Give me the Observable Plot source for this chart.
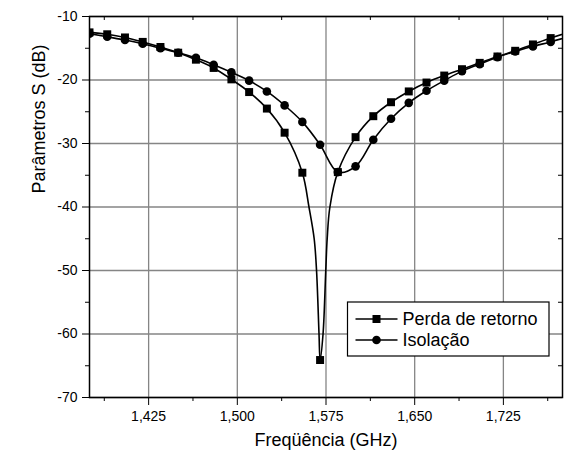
<!DOCTYPE html>
<html>
<head>
<meta charset="utf-8">
<script src="https://cdn.jsdelivr.net/npm/d3@7"></script>
<script src="https://cdn.jsdelivr.net/npm/@observablehq/plot@0.6"></script>
<style>
  body { margin: 0; background: #fff; }
  #chart svg { display: block; }
</style>
</head>
<body>
<div id="chart"></div>
<script>
// ---- Data ----
// Marker frequencies (GHz)
const freq = [1.375, 1.390, 1.405, 1.420, 1.435, 1.450, 1.465, 1.480, 1.495, 1.510,
              1.525, 1.540, 1.555, 1.570, 1.585, 1.600, 1.615, 1.630, 1.645, 1.660,
              1.675, 1.690, 1.705, 1.720, 1.735, 1.750, 1.765, 1.780];
// "Perda de retorno" (dB), square markers
const perdaRetorno = [-12.5, -12.8, -13.3, -14.0, -14.8, -15.7, -16.8, -18.1, -19.9, -21.9,
                      -24.5, -28.3, -34.6, -64.1, -34.5, -29.0, -25.7, -23.5, -21.8, -20.4,
                      -19.3, -18.3, -17.3, -16.3, -15.4, -14.4, -13.4, -12.5];
// "Isolação" (dB), circle markers
const isolacao = [-12.7, -13.2, -13.7, -14.3, -15.0, -15.7, -16.5, -17.6, -18.8, -20.1,
                  -21.8, -24.0, -26.6, -30.2, -34.5, -33.6, -29.4, -26.1, -23.6, -21.7,
                  -20.1, -18.6, -17.5, -16.4, -15.5, -14.7, -14.0, -13.2];
// Extra points of the "Perda de retorno" trace in the narrow dip (no marker)
const perdaTraceFreq = [1.5606, 1.5650, 1.5670, 1.5691, 1.5725, 1.5748, 1.5760, 1.5783];
const perdaTraceDb   = [-40, -45, -50, -60, -60, -50, -45, -40];

// Axis ticks
const xTicks = [1.425, 1.500, 1.575, 1.650, 1.725];
const xMinorTicks = [1.3875, 1.4625, 1.5375, 1.6125, 1.6875, 1.7625];
const yTicks = [-70, -60, -50, -40, -30, -20, -10];
const yMinorTicks = [-65, -55, -45, -35, -25, -15];
const xDomain = [1.375, 1.775];
const yDomain = [-70, -10];
const seriesNames = ["Perda de retorno", "Isolação"];
const xTitle = "Freqüência (GHz)";
const yTitle = "Parâmetros S (dB)";

// ---- Build tables ----
const perdaPts = freq.map((f, i) => ({f, db: perdaRetorno[i]}));
const isoPts = freq.map((f, i) => ({f, db: isolacao[i]}));
const perdaLine = perdaPts.concat(perdaTraceFreq.map((f, i) => ({f, db: perdaTraceDb[i]})))
  .sort((a, b) => a.f - b.f);

const fmtX = d => d3.format(".3f")(d).replace(".", ",");

const W = 564, H = 455, mL = 89, mR = 2, mT = 16, mB = 58;
const innerW = W - mL - mR, innerH = H - mT - mB;
const gridColor = "#858585";
const font = "'Liberation Sans', Arial, Helvetica, sans-serif";

const plot = Plot.plot({
  width: W, height: H,
  marginLeft: mL, marginRight: mR, marginTop: mT, marginBottom: mB,
  x: {domain: xDomain},
  y: {domain: yDomain},
  style: {fontFamily: font, fontSize: "14px", color: "black", background: "white", overflow: "visible"},
  marks: [
    Plot.ruleX(xTicks, {x: d => d, stroke: gridColor, strokeWidth: 1.3}),
    Plot.ruleY(yTicks, {y: d => d, stroke: gridColor, strokeWidth: 1.3}),
    Plot.line(perdaLine, {x: "f", y: "db", curve: "catmull-rom", stroke: "black", strokeWidth: 1.6, clip: true}),
    Plot.line(isoPts, {x: "f", y: "db", curve: "catmull-rom", stroke: "black", strokeWidth: 1.6, clip: true}),
    Plot.dot(perdaPts, {x: "f", y: "db", symbol: "square", r: 4.5, fill: "black", stroke: "none", clip: true}),
    Plot.dot(isoPts, {x: "f", y: "db", symbol: "circle", r: 4.3, fill: "black", stroke: "none", clip: true}),
    Plot.axisX(xTicks, {tickSize: 8, tickPadding: 6, tickFormat: fmtX, fontSize: 14, label: null, stroke: "black"}),
    Plot.axisX(xMinorTicks, {tickSize: 4, tickFormat: () => "", label: null, stroke: "black"}),
    Plot.axisY(yTicks, {tickSize: 7, tickPadding: 5, tickFormat: d => String(d), fontSize: 14, label: null, stroke: "black"}),
    Plot.axisY(yMinorTicks, {tickSize: 4, tickFormat: () => "", label: null, stroke: "black"}),
    // inward minor ticks on the top and right edges
    Plot.tickX(xMinorTicks, {x: d => d, insetBottom: innerH - 4, stroke: "black"}),
    Plot.tickY(yMinorTicks, {y: d => d, insetLeft: innerW - 4, stroke: "black"}),
    Plot.frame({stroke: "black", strokeWidth: 1.5}),
    Plot.text([xTitle], {frameAnchor: "bottom", dy: 48, fontSize: 18, fill: "black"}),
    Plot.text([yTitle], {frameAnchor: "left", dx: -50, dy: -13.5, rotate: -90, fontSize: 18, fill: "black"})
  ]
});

// ---- Legend (inside plot area, lower right) ----
const svg = d3.select(plot);
const lg = svg.append("g").attr("text-anchor", "start").style("font-family", font);
const lgX = mL + innerW - 214.5, lgY = mT + innerH - 95;
lg.append("rect").attr("x", lgX).attr("y", lgY).attr("width", 201.5).attr("height", 54)
  .attr("fill", "white").attr("stroke", "black").attr("stroke-width", 1.2);
seriesNames.forEach((name, i) => {
  const cy = lgY + 17 + i * 21;
  const g = lg.append("g");
  g.append("line").attr("x1", lgX + 8).attr("x2", lgX + 50).attr("y1", cy).attr("y2", cy)
    .attr("stroke", "black").attr("stroke-width", 1.6);
  if (i === 0) {
    g.append("rect").attr("x", lgX + 29 - 4).attr("y", cy - 4).attr("width", 8).attr("height", 8).attr("fill", "black");
  } else {
    g.append("circle").attr("cx", lgX + 29).attr("cy", cy).attr("r", 4.3).attr("fill", "black");
  }
  g.append("text").attr("x", lgX + 55).attr("y", cy).attr("dy", "0.35em")
    .attr("text-anchor", "start")
    .style("font-size", "18px").attr("fill", "black").text(name);
});

document.getElementById("chart").appendChild(plot);
</script>
</body>
</html>
